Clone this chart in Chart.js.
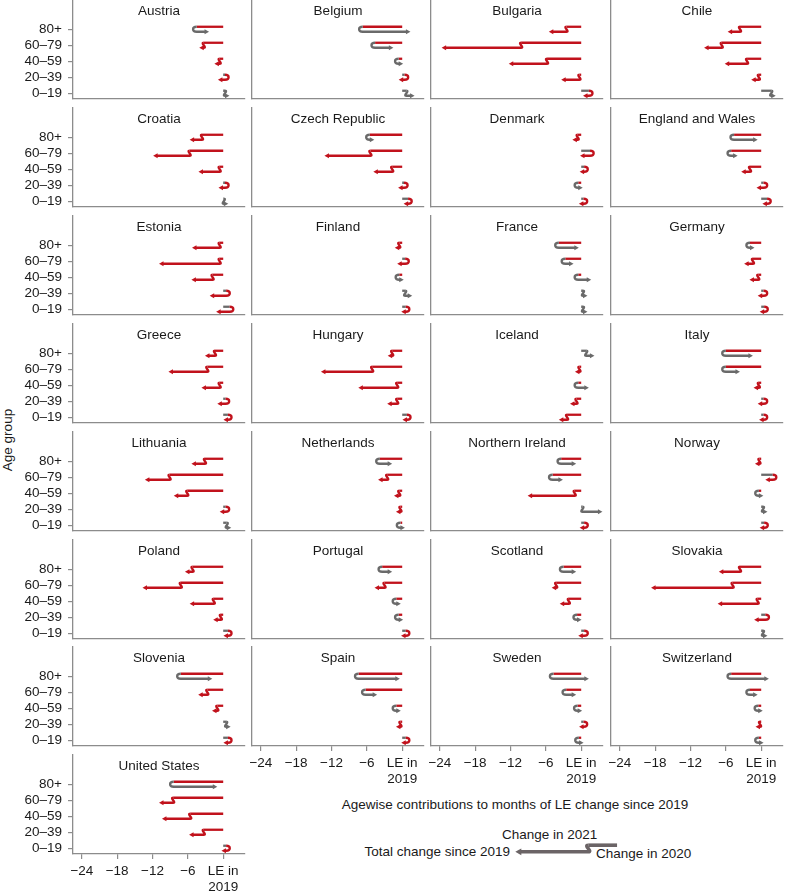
<!DOCTYPE html>
<html>
<head>
<meta charset="utf-8">
<script src="https://cdn.jsdelivr.net/npm/chart.js@4.4.1/dist/chart.umd.min.js"></script>
<style>
    body { margin: 0; background: #fff; width: 785px; height: 892px; overflow: hidden; position: relative; font-family: "Liberation Sans", Arial, sans-serif; }
    canvas { position: absolute; }
    .lbl { position: absolute; font-size: 13.5px; color: #1a1a1a; white-space: nowrap; line-height: 16px; }
</style>
</head>
<body>
<div class="lbl" style="left:8px;top:440px;transform:translate(-50%,-50%) rotate(-90deg);">Age group</div>
<div class="lbl" style="left:515px;top:805px;transform:translate(-50%,-50%);">Agewise contributions to months of LE change since 2019</div>
<div class="lbl" style="left:502px;top:835px;transform:translateY(-50%);">Change in 2021</div>
<div class="lbl" style="left:510px;top:852px;transform:translate(-100%,-50%);">Total change since 2019</div>
<div class="lbl" style="left:596px;top:854px;transform:translateY(-50%);">Change in 2020</div>
<div id="wrap"></div>
<script>
// age groups bottom -> top
const ageGroups = ['0\u201319', '20\u201339', '40\u201359', '60\u201379', '80+'];
const xTicks = [-24, -18, -12, -6, 0];

const countries = [
    'Austria', 'Belgium', 'Bulgaria', 'Chile',
    'Croatia', 'Czech Republic', 'Denmark', 'England and Wales',
    'Estonia', 'Finland', 'France', 'Germany',
    'Greece', 'Hungary', 'Iceland', 'Italy',
    'Lithuania', 'Netherlands', 'Northern Ireland', 'Norway',
    'Poland', 'Portugal', 'Scotland', 'Slovakia',
    'Slovenia', 'Spain', 'Sweden', 'Switzerland',
    'United States'
];

// months of LE change in 2020, per age group (0-19 .. 80+)
const change2020 = [
    [0.3, 0.3, -0.6, -3.3, -4.5],
    [0.7, 0.4, -0.6, -4.6, -6.7],
    [1.3, -0.3, -5.8, -10.2, -2.5],
    [1.7, -0.4, -2.4, -6.7, -3.6],
    [0.1, 0.3, -0.6, -5.7, -3.6],
    [1.0, 0.3, -1.7, -5.4, -5.5],
    [0.4, -0.5, 0.5, 1.5, -0.6],
    [1.0, 0.4, -1.9, -5.1, -4.6],
    [1.1, 0.5, -1.8, -0.6, -0.6],
    [0.6, 0.5, -0.5, 0.5, -0.5],
    [0.3, 0.3, -0.5, -2.7, -3.8],
    [0.5, 0.4, -0.5, -1.4, -1.9],
    [0.8, 0.4, -0.6, -2.7, -1.4],
    [0.8, -0.85, -0.85, -5.1, -1.7],
    [-2.4, -0.8, -0.5, -0.3, 0.85],
    [0.4, 0.4, -0.4, -6.0, -6.0],
    [0.6, 0.4, -6.1, -9.1, -3.1],
    [-0.3, -0.3, -0.5, -2.55, -3.8],
    [0.5, 0.2, -1.1, -4.85, -3.4],
    [0.5, 0.3, -0.4, 1.95, -0.3],
    [0.8, -0.4, -1.6, -7.2, -5.2],
    [0.6, -0.6, -1.0, -3.0, -3.4],
    [0.5, -0.7, -2.1, -4.25, -3.0],
    [0.3, 0.7, -0.6, -4.85, -3.6],
    [0.8, 0.5, -1.0, -2.7, -7.2],
    [0.6, -0.3, -1.0, -6.2, -7.4],
    [-0.4, 0.4, -0.6, -2.55, -4.7],
    [-0.4, -0.2, -0.5, -1.9, -5.1],
    [0.5, -3.3, -5.6, -8.5, -8.4]
];

// months of LE change in 2021
const change2021 = [
    [0.5, -1.2, -0.9, -0.5, 2.1],
    [1.4, -1.0, 0.4, 3.1, 8.1],
    [-1.0, -3.1, -6.5, -13.5, -3.0],
    [0.5, -1.3, -3.8, -3.0, -2.1],
    [0.2, -1.1, -3.6, -6.2, -2.1],
    [-0.6, -1.0, -3.2, -7.8, 0.3],
    [-0.8, 0.3, -0.5, -1.7, -0.9],
    [-0.8, -1.2, -1.5, 1.1, 4.0],
    [-2.3, -2.8, -3.6, -10.3, -4.7],
    [-0.7, 1.2, 0.3, -1.35, -0.5],
    [0.2, 0.3, 2.2, 1.4, 3.4],
    [-0.7, -1.0, -1.5, -1.5, 0.5],
    [-0.6, -1.4, -3.1, -6.6, -1.7],
    [-0.6, -1.7, -6.6, -8.7, -0.7],
    [-1.4, -1.1, 1.8, -0.3, 1.4],
    [-0.7, -1.0, -0.9, 2.4, 4.6],
    [0.3, -1.0, -2.3, -4.2, -2.3],
    [0.4, -0.4, -0.9, -1.55, 2.1],
    [-0.7, 3.4, -8.0, 1.75, 2.55],
    [-0.6, 0.4, 0.3, -1.25, -0.5],
    [-0.7, -1.3, -4.1, -6.5, -1.3],
    [-0.8, 0.3, 0.6, -1.7, 1.7],
    [-1.0, 0.3, -1.55, -0.6, 2.15],
    [0.4, -1.9, -6.8, -13.85, -3.6],
    [-0.6, 0.3, -0.9, -1.55, 5.35],
    [-0.6, -0.5, 0.6, 1.95, 7.0],
    [0.8, -0.7, 0.3, 1.7, 6.0],
    [0.8, -0.3, 0.2, 1.3, 6.4],
    [-0.8, -2.5, -4.8, -2.4, 7.4]
];

// legend sample
const legend2020 = [-4.9];
const legend2021 = [-12.4];

const RED = '#c1121c';
const GREY = '#6a6a6a';
const AXIS = '#8c8c8c';
const FONT = { family: '"Liberation Sans", Arial, sans-serif', size: 13.5, lineHeight: 1.15 };

const X_MIN = -25.5, X_MAX = 3.7;
const Y_MIN = -0.36, Y_MAX = 5.83;
const colLeft = [73, 252, 431, 611];
const PANEL_W = 172, PANEL_H = 99;

function drawHook(ctx, xs, yc, c20, c21, st)
{
    const x0 = xs.getPixelForValue(0);
    const x1 = xs.getPixelForValue(c20);
    let x2 = xs.getPixelForValue(c20 + c21);
    const yt = yc - st.gap, yb = yc + st.gap;
    const d1 = c20 < 0 ? -1 : 1;
    const d2 = c21 < 0 ? -1 : 1;
    const topCol = st.color || (c20 < 0 ? RED : GREY);
    const botCol = st.color || (c21 < 0 ? RED : GREY);

    ctx.lineWidth = st.width;
    ctx.lineCap = 'butt';
    ctx.lineJoin = 'round';

    ctx.strokeStyle = topCol;
    ctx.beginPath();
    ctx.moveTo(x0, yt);
    ctx.lineTo(x1, yt);
    ctx.stroke();

    if (Math.abs(x2 - x1) < st.head) x2 = x1 + d2 * st.head;
    const r = st.gap * 1.5;
    ctx.strokeStyle = botCol;
    ctx.beginPath();
    ctx.moveTo(x1, yt);
    if (d1 === d2) ctx.bezierCurveTo(x1 + d1 * r, yt, x1 - d1 * r, yb, x1, yb);
    else ctx.bezierCurveTo(x1 + d1 * r * 1.3, yt, x1 + d1 * r * 1.3, yb, x1, yb);
    ctx.lineTo(x2 - d2 * st.head * 0.8, yb);
    ctx.stroke();

    ctx.fillStyle = botCol;
    ctx.beginPath();
    ctx.moveTo(x2, yb);
    ctx.lineTo(x2 - d2 * st.head, yb - st.headW);
    ctx.lineTo(x2 - d2 * st.head, yb + st.headW);
    ctx.closePath();
    ctx.fill();
}

const hookPlugin = {
    id: 'hooks',
    afterDatasetsDraw(chart, args, opts)
    {
        const { ctx, scales: { x, y } } = chart;
        const d20 = chart.data.datasets[0].data;
        const d21 = chart.data.datasets[1].data;
        ctx.save();
        d20.forEach((p, i) =>
        {
            drawHook(ctx, x, y.getPixelForValue(p.y), p.x, d21[i].x, opts);
        });
        if (opts.title)
        {
            ctx.fillStyle = '#1a1a1a';
            ctx.font = '13.5px "Liberation Sans", Arial, sans-serif';
            ctx.textAlign = 'center';
            ctx.textBaseline = 'middle';
            const a = chart.chartArea;
            ctx.fillText(opts.title, (a.left + a.right) / 2, y.getPixelForValue(5.1));
        }
        ctx.restore();
    }
};

const wrap = document.getElementById('wrap');

function makeCanvas(left, top, w, h)
{
    const c = document.createElement('canvas');
    c.width = w;
    c.height = h;
    c.style.left = left + 'px';
    c.style.top = top + 'px';
    c.style.width = w + 'px';
    c.style.height = h + 'px';
    wrap.appendChild(c);
    return c;
}

countries.forEach((name, k) =>
{
    const row = Math.floor(k / 4), col = k % 4;
    const bottom = Math.round(99 + 107.9 * row);
    const top = bottom - PANEL_H;
    const isLeft = col === 0;
    const hasX = k >= 25;
    const yw = isLeft ? 73 : 10;
    const xh = hasX ? 40 : 2;
    const padTop = 1, padRight = 6;
    const canvas = makeCanvas(colLeft[col] - yw, top - padTop, yw + PANEL_W + padRight, padTop + PANEL_H + xh);

    new Chart(canvas.getContext('2d'), {
        type: 'scatter',
        data: {
            datasets: [
                { data: change2020[k].map((v, i) => ({ x: v, y: i })), pointRadius: 0, showLine: false },
                { data: change2021[k].map((v, i) => ({ x: v, y: i })), pointRadius: 0, showLine: false }
            ]
        },
        options: {
            responsive: false,
            animation: false,
            devicePixelRatio: 1,
            layout: { padding: { top: padTop, right: padRight, left: 0, bottom: 0 } },
            plugins: {
                legend: { display: false },
                tooltip: { enabled: false },
                hooks: { title: name, width: 2.3, gap: 2.5, head: 4.5, headW: 2.6 }
            },
            scales: {
                x: {
                    type: 'linear',
                    min: X_MIN,
                    max: X_MAX,
                    afterBuildTicks: (s) => { s.ticks = xTicks.map(v => ({ value: v })); },
                    afterFit: (s) =>
                    {
                        s.height = xh;
                        s.paddingLeft = 0;
                        s.paddingRight = 0;
                    },
                    grid: { display: hasX, drawOnChartArea: false, drawTicks: true, tickLength: 5, color: AXIS, lineWidth: 1.2 },
                    border: { display: true, color: AXIS, width: 1.3 },
                    ticks: {
                        display: hasX,
                        autoSkip: false,
                        maxRotation: 0,
                        padding: 5,
                        color: '#1a1a1a',
                        font: FONT,
                        callback: (v) => v === 0 ? ['LE in', '2019'] : '\u2212' + Math.abs(v)
                    }
                },
                y: {
                    type: 'linear',
                    min: Y_MIN,
                    max: Y_MAX,
                    afterBuildTicks: (s) => { s.ticks = ageGroups.map((a, i) => ({ value: i })); },
                    afterFit: (s) =>
                    {
                        s.width = yw;
                        s.paddingTop = 0;
                        s.paddingBottom = 0;
                    },
                    grid: { display: isLeft, drawOnChartArea: false, drawTicks: true, tickLength: 5, color: AXIS, lineWidth: 1.2 },
                    border: { display: true, color: AXIS, width: 1.3 },
                    ticks: {
                        display: isLeft,
                        autoSkip: false,
                        padding: 6,
                        color: '#1a1a1a',
                        font: FONT,
                        callback: (v) => ageGroups[v]
                    }
                }
            }
        },
        plugins: [hookPlugin]
    });
});

// legend chart
const lc = makeCanvas(430, 828, 290, 41);
new Chart(lc.getContext('2d'), {
    type: 'scatter',
    data: {
        datasets: [
            { data: legend2020.map(v => ({ x: v, y: 0 })), pointRadius: 0, showLine: false },
            { data: legend2021.map(v => ({ x: v, y: 0 })), pointRadius: 0, showLine: false }
        ]
    },
    options: {
        responsive: false,
        animation: false,
        devicePixelRatio: 1,
        layout: { padding: 0 },
        plugins: {
            legend: { display: false },
            tooltip: { enabled: false },
            hooks: { width: 3.6, gap: 3.3, head: 6, headW: 3.4, color: '#6b6466' }
        },
        scales: {
            x: { type: 'linear', min: -31.8, max: 17.5, display: false },
            y: { type: 'linear', min: -1, max: 1, display: false }
        }
    },
    plugins: [hookPlugin]
});
</script>
</body>
</html>
